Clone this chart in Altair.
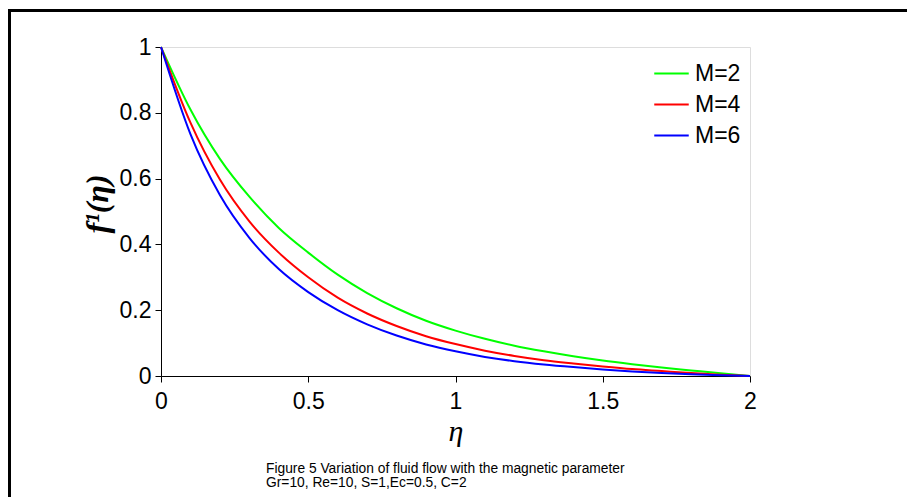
import altair as alt
import pandas as pd

# ---- data ----
eta = [0.0, 0.1, 0.2, 0.3, 0.4, 0.5, 0.6, 0.7, 0.8, 0.9, 1.0,
       1.1, 1.2, 1.3, 1.4, 1.5, 1.6, 1.7, 1.8, 1.9, 2.0]
m2 = [1.0, 0.81, 0.66, 0.545, 0.45, 0.375, 0.308, 0.252, 0.206, 0.168, 0.138,
      0.113, 0.092, 0.075, 0.06, 0.047, 0.036, 0.026, 0.017, 0.008, 0.0]
m4 = [1.0, 0.77, 0.597, 0.47, 0.375, 0.30, 0.238, 0.19, 0.152, 0.121, 0.097,
      0.077, 0.061, 0.048, 0.038, 0.029, 0.021, 0.015, 0.009, 0.004, 0.0]
m6 = [1.0, 0.735, 0.55, 0.42, 0.325, 0.255, 0.2, 0.157, 0.123, 0.096, 0.075,
      0.058, 0.045, 0.035, 0.027, 0.02, 0.014, 0.009, 0.005, 0.002, 0.0]
series_names = ["M=2", "M=4", "M=6"]
series_colors = ["#00FF00", "#FF0000", "#0000FF"]
x_ticks = [0, 0.5, 1, 1.5, 2]
y_ticks = [0, 0.2, 0.4, 0.6, 0.8, 1]
y_title = "f\u00b9(\u03b7)"
x_title = "\u03b7"
caption1 = "Figure 5 Variation of fluid flow with the magnetic parameter"
caption2 = "Gr=10, Re=10, S=1,Ec=0.5, C=2"

rows = []
for name, vals in zip(series_names, [m2, m4, m6]):
    for e, v in zip(eta, vals):
        rows.append({"eta": e, "f": v, "M": name})
df = pd.DataFrame(rows)

W, H = 589, 329
PL, PT = 161, 47

lines = alt.Chart(df).mark_line(strokeWidth=2, interpolate="monotone").encode(
    x=alt.X("eta:Q", scale=alt.Scale(domain=[0, 2], nice=False),
            axis=alt.Axis(values=x_ticks, format="~g", title=None, grid=False,
                          domainColor="black", tickColor="black", tickSize=6,
                          labelFontSize=23, labelColor="black", labelFont="Liberation Sans",
                          labelPadding=8, labelFlush=False)),
    y=alt.Y("f:Q", scale=alt.Scale(domain=[0, 1], nice=False),
            axis=alt.Axis(values=y_ticks, format="~g", title=None, grid=False,
                          domainColor="black", tickColor="black", tickSize=6,
                          labelFontSize=23, labelColor="black", labelFont="Liberation Sans",
                          labelPadding=4, labelFlush=False)),
    color=alt.Color("M:N", scale=alt.Scale(domain=series_names, range=series_colors),
                    legend=alt.Legend(title=None, orient="none", legendX=492, legendY=8,
                                      symbolType="stroke", symbolSize=1190,
                                      symbolStrokeWidth=2, labelFontSize=23,
                                      labelFont="Liberation Sans", labelColor="black",
                                      labelOffset=5, rowPadding=0)),
)

one = pd.DataFrame({"k": [0]})

border_top = alt.Chart(one).mark_rule(color="black", strokeWidth=3).encode(
    x=alt.value(9.5 - PL), x2=alt.value(907 - PL), y=alt.value(10.5 - PT))
border_left = alt.Chart(one).mark_rule(color="black", strokeWidth=3).encode(
    x=alt.value(9.5 - PL), y=alt.value(9 - PT), y2=alt.value(497 - PT))

ytitle = alt.Chart(pd.DataFrame({"t": [y_title]})).mark_text(
    angle=270, font="Liberation Serif", fontStyle="italic", fontWeight="bold",
    fontSize=32, color="black", align="center", baseline="alphabetic").encode(
    x=alt.value(108 - PL), y=alt.value(204 - PT), text="t:N")

xtitle = alt.Chart(pd.DataFrame({"t": [x_title]})).mark_text(
    font="Liberation Serif", fontStyle="italic", fontSize=30, color="black",
    align="center", baseline="alphabetic").encode(
    x=alt.value(456 - PL), y=alt.value(441 - PT), text="t:N")

cap1 = alt.Chart(pd.DataFrame({"t": [caption1]})).mark_text(
    font="Liberation Sans", fontSize=13.8, color="black", align="left",
    baseline="alphabetic").encode(x=alt.value(266 - PL), y=alt.value(473 - PT), text="t:N")
cap2 = alt.Chart(pd.DataFrame({"t": [caption2]})).mark_text(
    font="Liberation Sans", fontSize=13.8, color="black", align="left",
    baseline="alphabetic").encode(x=alt.value(266 - PL), y=alt.value(487 - PT), text="t:N")

chart = alt.layer(lines, border_top, border_left, ytitle, xtitle, cap1, cap2).properties(
    width=W, height=H,
    autosize=alt.AutoSizeParams(type="none"),
    padding={"left": PL, "top": PT, "right": 907 - PL - W, "bottom": 497 - PT - H},
).configure_view(stroke=None).configure(background="white")

chart.save("out.html", embed_options={"renderer": "svg", "actions": False})
